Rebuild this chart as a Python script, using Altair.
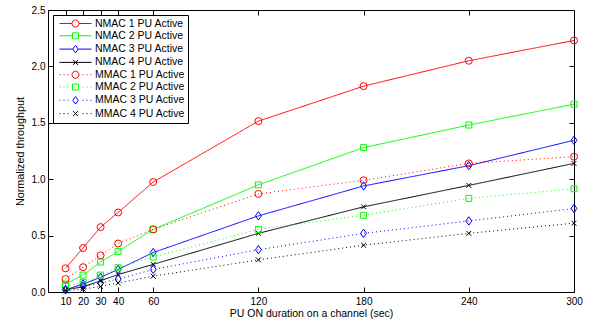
import altair as alt
import pandas as pd

x_vals = [10, 20, 30, 40, 60, 120, 180, 240, 300]
series_names = ["NMAC 1 PU Active", "NMAC 2 PU Active", "NMAC 3 PU Active", "NMAC 4 PU Active",
                "MMAC 1 PU Active", "MMAC 2 PU Active", "MMAC 3 PU Active", "MMAC 4 PU Active"]
nmac1 = [0.21, 0.39, 0.575, 0.705, 0.975, 1.515, 1.825, 2.05, 2.23]
nmac2 = [0.07, 0.15, 0.265, 0.36, 0.555, 0.95, 1.28, 1.48, 1.665]
nmac3 = [0.02, 0.07, 0.13, 0.20, 0.35, 0.675, 0.94, 1.12, 1.345]
nmac4 = [0.02, 0.045, 0.10, 0.155, 0.245, 0.52, 0.755, 0.945, 1.14]
mmac1 = [0.115, 0.22, 0.325, 0.43, 0.555, 0.87, 0.99, 1.14, 1.20]
mmac2 = [0.05, 0.085, 0.15, 0.215, 0.31, 0.555, 0.68, 0.83, 0.915]
mmac3 = [0.02, 0.05, 0.08, 0.115, 0.20, 0.375, 0.52, 0.63, 0.74]
mmac4 = [0.01, 0.025, 0.05, 0.08, 0.14, 0.285, 0.415, 0.52, 0.61]
all_series = [nmac1, nmac2, nmac3, nmac4, mmac1, mmac2, mmac3, mmac4]
y_ticks = [0, 0.5, 1, 1.5, 2, 2.5]

rows = []
for name, vals in zip(series_names, all_series):
    for xv, yv in zip(x_vals, vals):
        rows.append({"x": xv, "y": yv, "series": name})
df = pd.DataFrame(rows)

colors = ["#ff0000", "#00ff00", "#0000ff", "#000000"] * 2
dashes = [[1, 0]] * 4 + [[1, 3]] * 4

# chart markers (unit = 3.5px at size 49)
m_circle = "circle"
m_square = "M-0.85,-0.85H0.85V0.85H-0.85Z"
m_diamond = "M0,-1.2L0.85,0L0,1.2L-0.85,0Z"
m_x = "M-0.7,-0.7L0.7,0.7M-0.7,0.7L0.7,-0.7"
markers = [m_circle, m_square, m_diamond, m_x] * 2

# legend samples (unit = 5px at size 100): line + marker, 32px long
c = "M0.7,0A0.7,0.7,0,1,1,-0.7,0A0.7,0.7,0,1,1,0.7,0"
s = "M-0.6,-0.6H0.6V0.6H-0.6Z"
d = "M0,-0.75L0.55,0L0,0.75L-0.55,0Z"
xx = "M-0.5,-0.5L0.5,0.5M-0.5,0.5L0.5,-0.5"
solid_c = "M-3.2,0H-0.7M0.7,0H3.2"
solid_s = "M-3.2,0H-0.6M0.6,0H3.2"
solid_d = "M-3.2,0H-0.55M0.55,0H3.2"
solid_x = "M-3.2,0H3.2"
dots = ("M-3.2,0H-3.0M-2.4,0H-2.2M-1.6,0H-1.4"
        "M1.4,0H1.6M2.2,0H2.4M3.0,0H3.2")
legend_shapes = [solid_c + c, solid_s + s, solid_d + d, solid_x + xx,
                 dots + c, dots + s, dots + d, dots + xx]

FONT = "Liberation Sans"
xscale = alt.Scale(domain=[0, 300], nice=False, zero=False)
yscale = alt.Scale(domain=[0, 2.5], nice=False)
cscale = alt.Scale(domain=series_names, range=colors)

base = alt.Chart(df)

lines = base.mark_line(strokeWidth=1).encode(
    x=alt.X("x:Q", scale=xscale,
            axis=alt.Axis(values=x_vals, orient="bottom", ticks=False, domain=False, grid=False,
                          labelPadding=4, labelFontSize=10, labelFont=FONT, labelColor="black",
                          title="PU ON duration on a channel (sec)", titleFont=FONT, titleFontSize=10.5,
                          titleFontWeight="normal", titleColor="black", titlePadding=2,
                          labelFlush=False)),
    y=alt.Y("y:Q", scale=yscale,
            axis=alt.Axis(values=y_ticks, orient="left", ticks=False, domain=False, grid=False,
                          labelPadding=3, labelFontSize=10, labelFont=FONT, labelColor="black",
                          title="Normalized throughput", titleFont=FONT, titleFontSize=10.8,
                          titleFontWeight="normal", titleColor="black", titlePadding=6,
                          labelFlush=False)),
    color=alt.Color("series:N", scale=cscale, legend=None),
    strokeDash=alt.StrokeDash("series:N", scale=alt.Scale(domain=series_names, range=dashes), legend=None),
    detail="series:N",
)

points = base.mark_point(filled=False, size=49, strokeWidth=1, opacity=1).encode(
    x=alt.X("x:Q", scale=xscale,
            axis=alt.Axis(values=x_vals, orient="bottom", offset=-5, tickSize=5, ticks=True,
                          tickColor="black", labels=False, domain=False, grid=False, title=None)),
    y=alt.Y("y:Q", scale=yscale,
            axis=alt.Axis(values=y_ticks, orient="left", offset=-5, tickSize=5, ticks=True,
                          tickColor="black", labels=False, domain=False, grid=False, title=None)),
    color=alt.Color("series:N", scale=cscale, legend=None),
    shape=alt.Shape("series:N", scale=alt.Scale(domain=series_names, range=markers), legend=None),
)

leg = dict(title=None, orient="none", legendX=5, legendY=5,
           symbolSize=100, symbolStrokeWidth=1, symbolOpacity=1,
           symbolOffset=14, labelOffset=14)

legend_layer = base.transform_filter("false").mark_point(filled=False, size=100, strokeWidth=1).encode(
    x=alt.X("x:Q", scale=xscale,
            axis=alt.Axis(values=x_vals, orient="top", offset=-5, tickSize=5, ticks=True,
                          tickColor="black", labels=False, domain=False, grid=False, title=None)),
    y=alt.Y("y:Q", scale=yscale,
            axis=alt.Axis(values=y_ticks, orient="right", offset=-5, tickSize=5, ticks=True,
                          tickColor="black", labels=False, domain=False, grid=False, title=None)),
    color=alt.Color("series:N", scale=cscale, legend=alt.Legend(**leg)),
    shape=alt.Shape("series:N", scale=alt.Scale(domain=series_names, range=legend_shapes),
                    legend=alt.Legend(**leg)),
)

chart = alt.layer(lines, points, legend_layer).resolve_scale(
    shape="independent", color="independent"
).resolve_axis(
    x="independent", y="independent"
).properties(
    width=526, height=282,
    autosize=alt.AutoSizeParams(type="none"),
    padding={"left": 48, "top": 10, "right": 20, "bottom": 33},
    background="white",
).configure_view(
    stroke="black", strokeWidth=1
).configure_legend(
    strokeColor="black", fillColor="white", padding=3, cornerRadius=0,
    labelFont=FONT, labelFontSize=10.5, labelColor="black",
    rowPadding=1.3, labelLimit=300,
)

chart.save("out.html", embed_options={"renderer": "svg", "actions": False})
